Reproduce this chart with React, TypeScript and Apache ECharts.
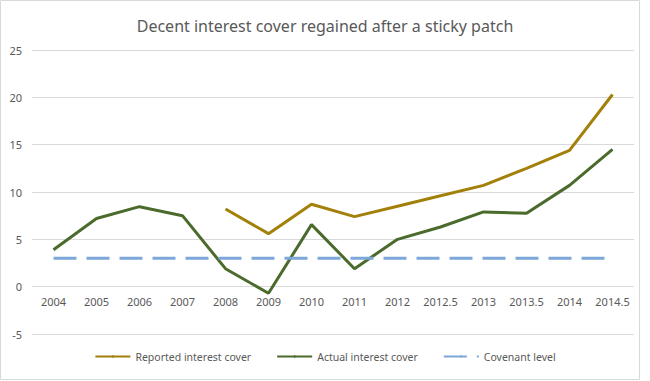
import React, { useEffect, useRef } from "react";
import * as echarts from "echarts";

const categories = ["2004", "2005", "2006", "2007", "2008", "2009", "2010", "2011", "2012", "2012.5", "2013", "2013.5", "2014", "2014.5"];
const reported: (number | null)[] = [null, null, null, null, 8.2, 5.6, 8.7, 7.4, 8.5, 9.6, 10.7, 12.5, 14.4, 20.3];
const actual: number[] = [3.9, 7.2, 8.45, 7.5, 1.9, -0.7, 6.55, 1.9, 5.0, 6.3, 7.9, 7.75, 10.7, 14.5];
const covenant: number[] = [3, 3, 3, 3, 3, 3, 3, 3, 3, 3, 3, 3, 3, 3];
const yTicks = { min: -5, max: 25, interval: 5 };

const FONT = "Noto Sans";
const TEXT = "#595959";
const GRID = { left: 32, right: 16, top: 50, bottom: 47 };
const HEIGHT = 381;

export default function App() {
  const ref = useRef<HTMLDivElement>(null);
  useEffect(() => {
    document.body.style.margin = "0";
    if (!ref.current) return;
    const chart = echarts.init(ref.current, null, { renderer: "svg" });
    const plotH = HEIGHT - GRID.top - GRID.bottom;
    const zeroOffset = -plotH * (0 - yTicks.min) / (yTicks.max - yTicks.min);
    chart.setOption({
      animation: false,
      backgroundColor: "#ffffff",
      title: {
        text: "Decent interest cover regained after a sticky patch",
        left: "center",
        top: 13,
        textStyle: { fontFamily: FONT, fontSize: 16, fontWeight: "normal", color: TEXT },
      },
      graphic: [
        {
          type: "rect",
          shape: { x: 0.5, y: 0.5, width: 639, height: 379 },
          style: { fill: "none", stroke: "#d9d9d9", lineWidth: 1 },
          silent: true,
        },
      ],
      legend: {
        top: 346,
        left: "center",
        itemWidth: 35,
        itemHeight: 3,
        itemGap: 25,
        textStyle: { fontFamily: FONT, fontSize: 10.5, color: TEXT },
        data: ["Reported interest cover", "Actual interest cover", "Covenant level"],
      },
      grid: GRID,
      xAxis: {
        type: "category",
        data: categories,
        boundaryGap: true,
        offset: zeroOffset,
        axisLine: { show: false, onZero: false },
        axisTick: { show: false },
        axisLabel: { fontFamily: FONT, fontSize: 11, color: TEXT, margin: 9, interval: 0 },
      },
      yAxis: {
        type: "value",
        min: yTicks.min,
        max: yTicks.max,
        interval: yTicks.interval,
        axisLine: { show: false },
        axisTick: { show: false },
        axisLabel: { fontFamily: FONT, fontSize: 11, color: TEXT, margin: 10 },
        splitLine: { lineStyle: { color: "#d9d9d9", width: 1 } },
      },
      series: [
        {
          name: "Reported interest cover",
          type: "line",
          data: reported,
          symbol: "none",
          connectNulls: false,
          lineStyle: { color: "#A2800A", width: 3 },
          itemStyle: { color: "#A2800A" },
        },
        {
          name: "Actual interest cover",
          type: "line",
          data: actual,
          symbol: "none",
          lineStyle: { color: "#4A6B2C", width: 3 },
          itemStyle: { color: "#4A6B2C" },
        },
        {
          name: "Covenant level",
          type: "line",
          data: covenant,
          symbol: "none",
          lineStyle: { color: "#7DA7D9", width: 3, type: [23, 10], cap: "butt" },
          itemStyle: { color: "#7DA7D9" },
        },
      ],
    });
    return () => chart.dispose();
  }, []);
  return <div ref={ref} style={{ width: 650, height: HEIGHT }} />;
}
